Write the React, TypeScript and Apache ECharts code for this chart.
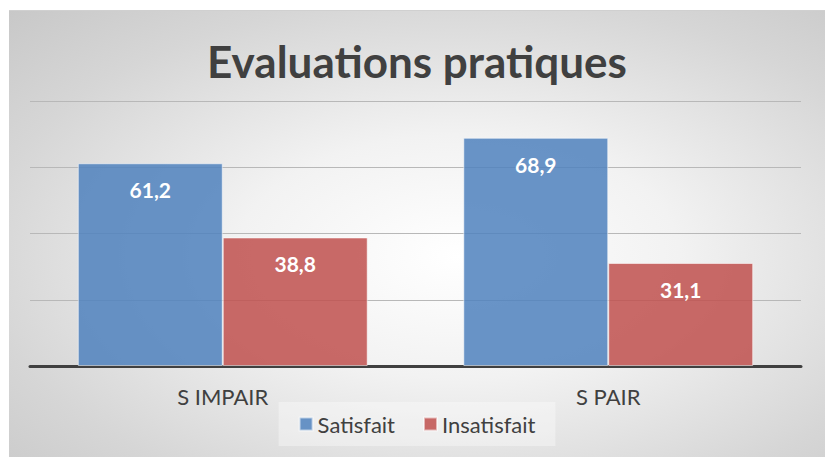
import React, { useEffect, useRef } from "react";
import * as echarts from "echarts";

const categories = ["S IMPAIR", "S PAIR"];
const satisfait = [61.2, 68.9];
const insatisfait = [38.8, 31.1];
const seriesNames = ["Satisfait", "Insatisfait"];
const titleText = "Evaluations pratiques";

const FONT = "Lato, 'Noto Sans', sans-serif";

export default function App() {
  const ref = useRef<HTMLDivElement>(null);
  useEffect(() => {
    if (!ref.current) return;
    const chart = echarts.init(ref.current, null, { renderer: "svg" });
    const label = {
      show: true,
      position: "insideTop" as const,
      distance: 16,
      color: "#ffffff",
      fontFamily: FONT,
      fontWeight: "bold" as const,
      fontSize: 21,
      formatter: (p: any) => String(p.value).replace(".", ","),
    };
    chart.setOption({
      animation: false,
      backgroundColor: "transparent",
      title: {
        text: titleText,
        left: "center",
        top: 23,
        textStyle: { fontFamily: FONT, fontWeight: "bold", fontSize: 44, color: "#404040" },
      },
      legend: {
        data: seriesNames,
        bottom: 11,
        left: "center",
        itemWidth: 13,
        itemHeight: 13,
        itemGap: 28,
        padding: [11, 20],
        backgroundColor: "rgba(255,255,255,0.35)",
        icon: "rect",
        textStyle: { fontFamily: FONT, fontSize: 22, color: "#404040" },
      },
      grid: { left: 21, right: 24, top: 90, bottom: 91, containLabel: false },
      xAxis: {
        type: "category",
        data: categories,
        axisLine: { lineStyle: { color: "#404040", width: 3 } },
        axisTick: { show: false },
        axisLabel: { fontFamily: FONT, fontSize: 22, color: "#404040", margin: 19 },
      },
      yAxis: {
        type: "value",
        min: 0,
        max: 80,
        interval: 20,
        axisLabel: { show: false },
        axisLine: { show: false },
        axisTick: { show: false },
        splitLine: { lineStyle: { color: "#b8b8b8", width: 1 } },
      },
      series: [
        {
          name: seriesNames[0],
          type: "bar",
          data: satisfait,
          barWidth: "37.6%",
          barGap: "0%",
          itemStyle: { color: "rgba(79,129,189,0.85)", borderColor: "rgba(255,255,255,0.55)", borderWidth: 1 },
          label,
        },
        {
          name: seriesNames[1],
          type: "bar",
          data: insatisfait,
          barWidth: "37.6%",
          barGap: "0%",
          itemStyle: { color: "rgba(192,80,77,0.85)", borderColor: "rgba(255,255,255,0.55)", borderWidth: 1 },
          label,
        },
      ],
    });
    return () => chart.dispose();
  }, []);
  return (
    <div
      ref={ref}
      style={{
        position: "absolute",
        left: 9,
        top: 10,
        width: 816,
        height: 447,
        borderTop: "1px solid #d0d0d0",
        boxSizing: "border-box",
        background: "radial-gradient(ellipse at 55% 55%, #ffffff 0%, #f2f2f2 35%, #d6d6d6 75%, #c8c8c8 100%)",
      }}
    />
  );
}
